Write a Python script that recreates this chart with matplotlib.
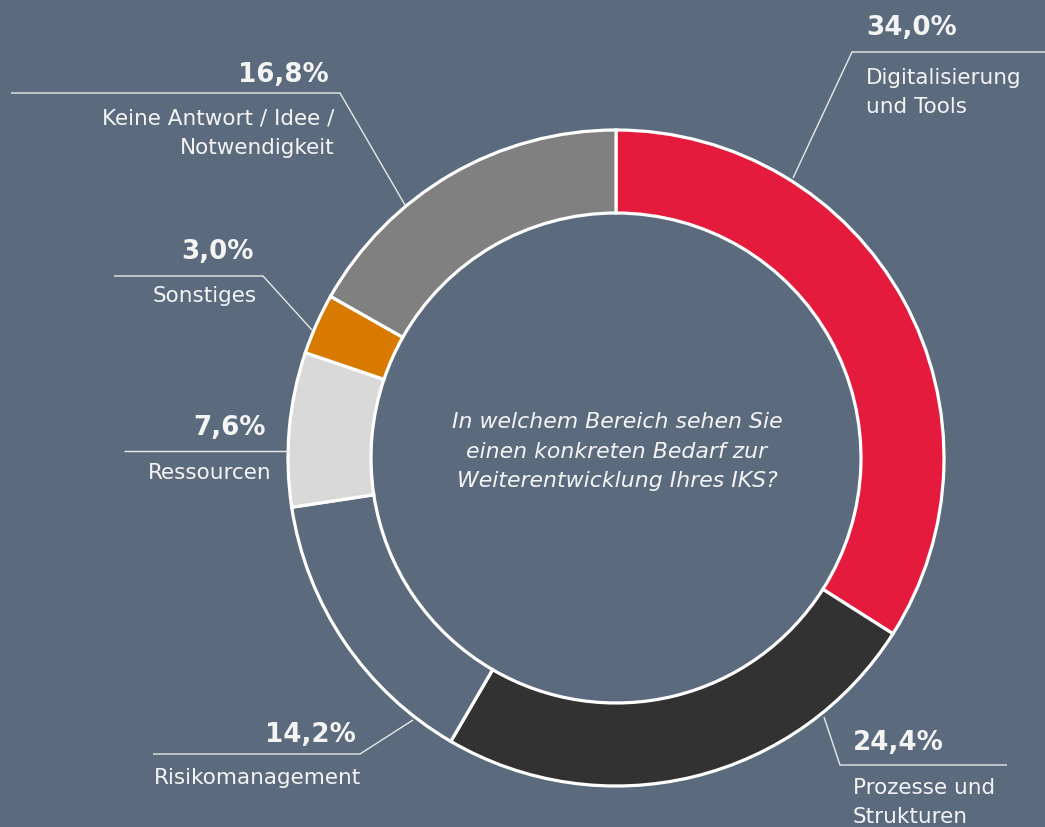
import matplotlib
matplotlib.use("Agg")
import matplotlib.pyplot as plt

W, H = 1045, 827
BG = "#5b6b7d"

categories = ["Digitalisierung\nund Tools", "Prozesse und\nStrukturen", "Risikomanagement",
              "Ressourcen", "Sonstiges", "Keine Antwort / Idee /\nNotwendigkeit"]
values = [34.0, 24.4, 14.2, 7.6, 3.0, 16.8]
pct_labels = ["34,0%", "24,4%", "14,2%", "7,6%", "3,0%", "16,8%"]
colors = ["#e41b3d", "#323232", BG, "#d9d9d9", "#d97a00", "#808080"]
question = ["In welchem Bereich sehen Sie", "einen konkreten Bedarf zur",
            "Weiterentwicklung Ihres IKS?"]

plt.rcParams['font.family'] = ['DejaVu Sans']

fig = plt.figure(figsize=(W / 100, H / 100), dpi=100, facecolor=BG)
ax = fig.add_axes([0, 0, 1, 1])
ax.set_facecolor(BG)

def P(x, y):
    return (x, H - y)

cx, cy = 616, 458
ax.pie(values, colors=colors, startangle=90, counterclock=False,
       radius=328, center=P(cx, cy),
       wedgeprops=dict(width=83, edgecolor="white", linewidth=2.3))
ax.set_xlim(0, W)
ax.set_ylim(0, H)
ax.set_aspect("equal")
ax.axis("off")

TXT = "#f4f4f4"
LINE = "#e8e8e8"

layout = [
    dict(line=[(793, 178), (852, 52), (1045, 52)], pct=(866, 35), lab=(866, 84), ha="left"),
    dict(line=[(824, 717), (840, 765), (1007, 765)], pct=(853, 750), lab=(853, 794), ha="left"),
    dict(line=[(413, 720), (360, 754), (153, 754)], pct=(356, 742), pct_ha="right", lab=(154, 784), ha="left"),
    dict(line=[(290, 451), (124, 451)], pct=(266, 435), lab=(272, 479), ha="right"),
    dict(line=[(312, 330), (263, 276), (114, 276)], pct=(254, 259), lab=(257, 302), ha="right"),
    dict(line=[(405, 205), (340, 93), (11, 93)], pct=(329, 82), lab=(334, 125), ha="right"),
]

for cat, pct, lay in zip(categories, pct_labels, layout):
    xs = [p[0] for p in lay["line"]]
    ys = [H - p[1] for p in lay["line"]]
    ax.plot(xs, ys, color=LINE, lw=1.0, solid_capstyle="butt")
    ax.text(*P(*lay["pct"]), pct, color=TXT, fontsize=18.8, fontweight="bold",
            ha=lay.get("pct_ha", lay["ha"]), va="baseline")
    for i, line in enumerate(cat.split("\n")):
        lx, ly = lay["lab"]
        ax.text(*P(lx, ly + i * 29), line, color=TXT, fontsize=15.5,
                ha=lay["ha"], va="baseline")

for i, line in enumerate(question):
    ax.text(*P(617, 428 + i * 29.5), line, color=TXT, fontsize=15.8, style="italic",
            ha="center", va="baseline")

fig.savefig("out.png", dpi=100, facecolor=BG)
